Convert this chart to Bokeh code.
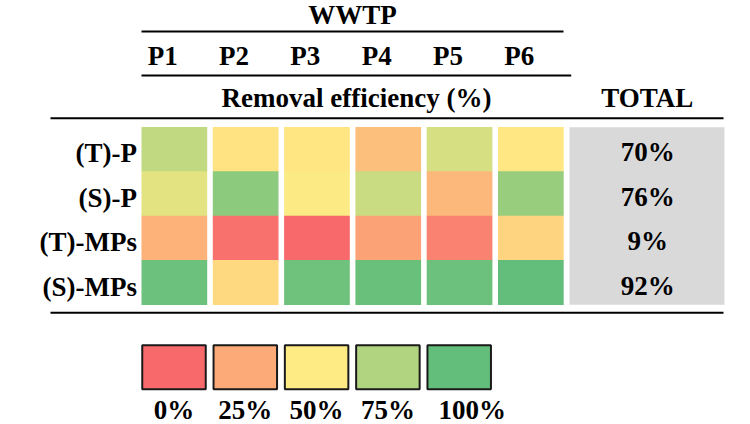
import numpy as np
from bokeh.plotting import figure
from bokeh.models import Range1d, ColumnDataSource, LinearColorMapper
from bokeh.transform import transform
from bokeh.core.properties import value
from bokeh.embed import file_html
from bokeh.resources import INLINE

# ---------------- data ----------------
plants = ["P1", "P2", "P3", "P4", "P5", "P6"]
parameters = ["(T)-P", "(S)-P", "(T)-MPs", "(S)-MPs"]
eff_TP = [70, 47, 48, 33, 63, 49]
eff_SP = [59, 87, 51, 67, 30, 83]
eff_TMPs = [28, 3, 0, 22, 10, 41]
eff_SMPs = [97, 43, 96, 98, 97, 100]
totals = [70, 76, 9, 92]
legend_ticks = [0, 25, 50, 75, 100]

# ---------------- style / layout ----------------
FONT = value("Liberation Serif")
FS = "27px"
anchors = [(248, 105, 107), (255, 235, 132), (99, 190, 123)]
palette = []
for k in range(201):
    t = k / 200
    if t <= 0.5:
        a, b, s = anchors[0], anchors[1], t / 0.5
    else:
        a, b, s = anchors[1], anchors[2], (t - 0.5) / 0.5
    c = [round(a[m] + (b[m] - a[m]) * s) for m in range(3)]
    palette.append("#%02x%02x%02x" % tuple(c))
mapper = LinearColorMapper(palette=palette, low=0, high=100)

col_x0 = 141.0
pitch = 71.3
cell_w = 65.7
row_top = 126.7
row_h = 44.4

p = figure(width=750, height=424, x_range=Range1d(0, 750), y_range=Range1d(424, 0),
           output_backend="svg", toolbar_location=None, min_border=0)
p.axis.visible = False
p.grid.visible = False
p.outline_line_color = None
p.background_fill_color = "white"

# heatmap cells
rows = [eff_TP, eff_SP, eff_TMPs, eff_SMPs]
xs, ys, vals = [], [], []
for j, r in enumerate(rows):
    for i, v in enumerate(r):
        xs.append(col_x0 + cell_w / 2 + i * pitch)
        ys.append(row_top + row_h * (j + 0.5))
        vals.append(v)
src = ColumnDataSource(dict(x=xs, y=ys, v=vals))
p.rect(x="x", y="y", width=cell_w, height=row_h + 0.6, source=src,
       fill_color=transform("v", mapper), line_color=None)

# total box
p.quad(left=[569], right=[724], top=[row_top], bottom=[row_top + 4 * row_h],
       fill_color="#d9d9d9", line_color=None)

# rules
p.segment(x0=[141, 141, 50, 50], y0=[31, 75, 117.7, 312.3],
          x1=[563, 570.7, 723, 723], y1=[31, 75, 117.7, 312.3],
          line_color="black", line_width=2)

txt = dict(text_font=FONT, text_font_style="bold", text_font_size=FS,
           text_color="black", text_baseline="middle")

p.text(x=[352], y=[14.5], text=["WWTP"], text_align="center", **txt)
p.text(x=[col_x0 + cell_w / 2 + i * pitch - 11.6 for i in range(len(plants))],
       y=[55.5] * len(plants), text=plants, text_align="center", **txt)
p.text(x=[356], y=[97], text=["Removal efficiency (%)"], text_align="center", **txt)
p.text(x=[646.7], y=[97], text=["TOTAL"], text_align="center", **txt)

row_y = [row_top + row_h * (j + 0.5) for j in range(len(parameters))]
p.text(x=[136.5] * len(parameters), y=[y + 4 for y in row_y], text=parameters,
       text_align="right", **txt)
p.text(x=[647.3] * len(totals), y=[y + 3 for y in row_y],
       text=["%d%%" % t for t in totals], text_align="center", **txt)

# legend
lsrc = ColumnDataSource(dict(x=[col_x0 + 32.5 + i * pitch for i in range(len(legend_ticks))],
                             v=legend_ticks))
p.rect(x="x", y=366.7, width=63.5, height=44, source=lsrc,
       fill_color=transform("v", mapper), line_color="#1a1a1a", line_width=2)
label_shift = [0, 0, 0, 0, 13]
p.text(x=[col_x0 + 32.5 + i * pitch + label_shift[i] for i in range(len(legend_ticks))],
       y=[409.5] * len(legend_ticks), text=["%d%%" % t for t in legend_ticks],
       text_align="center", **txt)

open("out.html", "w").write(file_html(p, INLINE))
